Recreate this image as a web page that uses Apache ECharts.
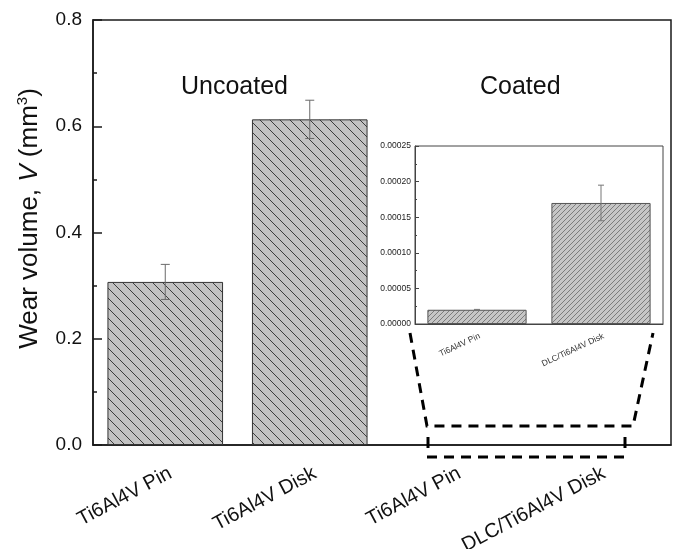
<!DOCTYPE html>
<html>
<head>
<meta charset="utf-8">
<script src="https://cdn.jsdelivr.net/npm/echarts@6/dist/echarts.min.js"></script>
<style>
  html, body { margin: 0; padding: 0; background: #fff; }
  #chart { width: 676px; height: 549px; }
</style>
</head>
<body>
<div id="chart"></div>
<script>
// Wear volume of uncoated and DLC-coated Ti6Al4V pin/disk pairs
const categories = ['Ti6Al4V Pin', 'Ti6Al4V Disk', 'Ti6Al4V Pin', 'DLC/Ti6Al4V Disk'];
const uncoatedValues = [0.307, 0.613, '-', '-'];      // mm^3, coated pair shown in the inset
const uncoatedErrors = [0.033, 0.036, null, null];
const mainTicks = { min: 0, max: 0.8, interval: 0.2 };

const insetCategories = ['Ti6Al4V Pin', 'DLC/Ti6Al4V Disk'];
const coatedValues = [0.00002, 0.00017];
const coatedErrors = [0.0000005, 0.000025];
const insetTicks = { min: 0, max: 0.00025, interval: 0.00005 };

const groupLabels = ['Uncoated', 'Coated'];

// Layout (pixels)
const MAIN = { left: 93, top: 20, right: 5, bottom: 104 };
const INSET = { left: 415, top: 146, width: 248, height: 178 };

// Diagonal hatch tiles used as bar fills
function hatch(size, dir, bg, fg, lw) {
  const c = document.createElement('canvas');
  c.width = c.height = size;
  const g = c.getContext('2d');
  g.fillStyle = bg;
  g.fillRect(0, 0, size, size);
  g.strokeStyle = fg;
  g.lineWidth = lw;
  g.beginPath();
  for (let k = -1; k <= 2; k++) {
    if (dir === 'back') {
      g.moveTo(-1, -1 + k * size);
      g.lineTo(size + 1, size + 1 + k * size);
    } else {
      g.moveTo(-1, k * size + 1);
      g.lineTo(size + 1, k * size - size - 1);
    }
  }
  g.stroke();
  return c;
}
const mainFill = { image: hatch(10, 'back', '#c2c2c2', '#3c3c3c', 1), repeat: 'repeat' };
const insetFill = { image: hatch(5, 'fwd', '#c6c6c6', '#6a6a6a', 0.8), repeat: 'repeat' };

function errorBars(capHalf, color) {
  return function (params, api) {
    const x = api.value(0), v = api.value(1), e = api.value(2);
    const hi = api.coord([x, v + e]);
    const lo = api.coord([x, v - e]);
    const st = { stroke: color, lineWidth: 1 };
    return {
      type: 'group',
      children: [
        { type: 'line', shape: { x1: hi[0], y1: hi[1], x2: lo[0], y2: lo[1] }, style: st },
        { type: 'line', shape: { x1: hi[0] - capHalf, y1: hi[1], x2: hi[0] + capHalf, y2: hi[1] }, style: st },
        { type: 'line', shape: { x1: lo[0] - capHalf, y1: lo[1], x2: lo[0] + capHalf, y2: lo[1] }, style: st }
      ]
    };
  };
}

const mainErrData = [];
uncoatedErrors.forEach((e, i) => { if (e != null) mainErrData.push([i, uncoatedValues[i], e]); });
const insetErrData = coatedErrors.map((e, i) => [i, coatedValues[i], e]);

const FONT = 'Liberation Sans, Arial, sans-serif';
const chart = echarts.init(document.getElementById('chart'), null, { renderer: 'canvas' });

// Dashed callout linking the coated pair on the main axis to the inset
const trapezoid = [[410, 333], [427, 426], [633, 426], [653, 333]];
const dashStyle = { stroke: '#000', lineWidth: 3, lineDash: [10, 7], fill: null };

chart.setOption({
  backgroundColor: '#fff',
  animation: false,
  textStyle: { fontFamily: FONT },
  grid: [
    { left: MAIN.left, top: MAIN.top, right: MAIN.right, bottom: MAIN.bottom,
      show: true, borderColor: '#1a1a1a', borderWidth: 1.5, containLabel: false, outerBoundsMode: 'none' },
    { left: INSET.left, top: INSET.top, width: INSET.width, height: INSET.height,
      show: true, backgroundColor: '#fff', borderColor: '#444', borderWidth: 1, z: 5,
      containLabel: false, outerBoundsMode: 'none' }
  ],
  xAxis: [
    {
      gridIndex: 0, type: 'category', data: categories,
      axisLine: { lineStyle: { color: '#1a1a1a', width: 1.5 } },
      axisTick: { inside: true, alignWithLabel: true, length: 9, lineStyle: { color: '#1a1a1a', width: 1.5 } },
      axisLabel: { rotate: 28, fontSize: 20, color: '#111', margin: 30, fontFamily: FONT, padding: [0, -6, 0, 0] },
      splitLine: { show: false }
    },
    {
      gridIndex: 1, type: 'category', data: insetCategories, z: 6,
      axisLine: { lineStyle: { color: '#444', width: 1 } },
      axisTick: { inside: true, alignWithLabel: true, length: 4, lineStyle: { color: '#444' } },
      axisLabel: { rotate: 25, fontSize: 8.5, color: '#333', margin: 13, fontFamily: FONT, padding: [0, -3, 0, 0] },
      splitLine: { show: false }
    }
  ],
  yAxis: [
    {
      gridIndex: 0, type: 'value', min: mainTicks.min, max: mainTicks.max, interval: mainTicks.interval,
      axisLine: { show: true, lineStyle: { color: '#1a1a1a', width: 1.5 } },
      axisTick: { show: true, inside: true, length: 9, lineStyle: { color: '#1a1a1a', width: 1.5 } },
      minorTick: { show: true, splitNumber: 2, length: 4, lineStyle: { color: '#1a1a1a', width: 1.5 } },
      axisLabel: { fontSize: 19, color: '#111', margin: 11, fontFamily: FONT, formatter: v => v.toFixed(1) },
      splitLine: { show: false },
      name: 'Wear volume, {i|V} (mm{sup|3})',
      nameLocation: 'middle', nameRotate: 90, nameGap: 48,
      nameTextStyle: {
        fontSize: 26, color: '#111', fontFamily: FONT, padding: [0, 0, 0, 28],
        rich: {
          i: { fontSize: 26, fontStyle: 'italic', color: '#111', fontFamily: FONT },
          sup: { fontSize: 15, color: '#111', fontFamily: FONT, padding: [0, 0, 15, 0] }
        }
      }
    },
    {
      gridIndex: 1, type: 'value', min: insetTicks.min, max: insetTicks.max, interval: insetTicks.interval, z: 6,
      axisLine: { show: true, lineStyle: { color: '#444', width: 1 } },
      axisTick: { show: true, inside: true, length: 4, lineStyle: { color: '#444' } },
      minorTick: { show: true, splitNumber: 2, length: 2, lineStyle: { color: '#444' } },
      axisLabel: { fontSize: 8.5, color: '#222', margin: 4, fontFamily: FONT, formatter: v => v.toFixed(5) },
      splitLine: { show: false }
    }
  ],
  series: [
    {
      type: 'bar', xAxisIndex: 0, yAxisIndex: 0, data: uncoatedValues, barWidth: '80%',
      itemStyle: { color: mainFill, borderColor: '#333', borderWidth: 1 }
    },
    {
      type: 'custom', xAxisIndex: 0, yAxisIndex: 0, data: mainErrData,
      renderItem: errorBars(4.5, '#6a6a6a'), z: 3
    },
    {
      type: 'bar', xAxisIndex: 1, yAxisIndex: 1, data: coatedValues, barWidth: '80%', z: 7,
      itemStyle: { color: insetFill, borderColor: '#555', borderWidth: 1 }
    },
    {
      type: 'custom', xAxisIndex: 1, yAxisIndex: 1, data: insetErrData,
      renderItem: errorBars(3, '#777'), z: 8
    }
  ],
  graphic: [
    { type: 'text', left: 181, top: 75, z: 10,
      style: { text: groupLabels[0], fontSize: 25, fill: '#111', fontFamily: FONT } },
    { type: 'text', left: 480, top: 75, z: 10,
      style: { text: groupLabels[1], fontSize: 25, fill: '#111', fontFamily: FONT } },
    { type: 'polyline', z: 10, shape: { points: trapezoid }, style: dashStyle },
    { type: 'line', z: 10, shape: { x1: 427, y1: 457, x2: 626, y2: 457 }, style: dashStyle },
    { type: 'line', z: 10, shape: { x1: 428, y1: 437, x2: 428, y2: 448 }, style: { stroke: '#000', lineWidth: 3 } },
    { type: 'line', z: 10, shape: { x1: 625, y1: 437, x2: 625, y2: 448 }, style: { stroke: '#000', lineWidth: 3 } }
  ]
});
</script>
</body>
</html>
